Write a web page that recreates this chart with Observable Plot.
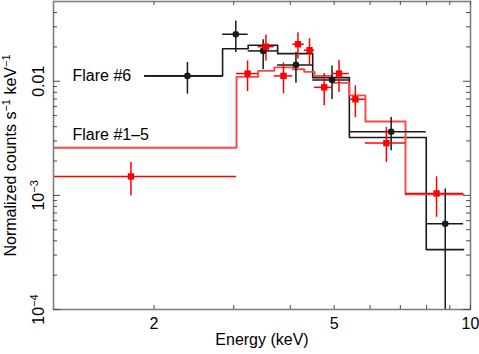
<!DOCTYPE html>
<html>
<head>
<meta charset="utf-8">
<script src="https://cdn.jsdelivr.net/npm/d3@7"></script>
<script src="https://cdn.jsdelivr.net/npm/@observablehq/plot@0.6"></script>
<style>
  html, body { margin: 0; padding: 0; background: #fff; }
</style>
</head>
<body>
<div id="chart"></div>
<script>
// ---- Flare #6 (black) ----
const f6Lo    = [1.908, 2.835, 3.229, 3.751, 4.483, 5.401, 7.985];
const f6Hi    = [2.835, 3.229, 3.751, 4.483, 5.401, 7.985, 9.654];
const f6E     = [2.371, 3.032, 3.485, 4.117, 4.946, 6.68, 8.795];
const f6Val   = [0.01114, 0.02582, 0.01845, 0.01391, 0.01028, 0.003606, 0.000565];
const f6ErrLo = [0.00771, 0.01783, 0.01259, 0.00962, 0.00692, 0.00246, 0.00005];
const f6ErrHi = [0.01459, 0.0338, 0.0231, 0.01783, 0.01364, 0.00481, 0.001138];
const f6Model = [0.01114, 0.0193, 0.0207, 0.01745, 0.01076, 0.003217, 0.000335];

// ---- Flare #1-5 (red) ----
const f15Lo    = [1.2, 3.043, 3.398, 3.687, 4.05, 4.295, 4.524, 4.946, 5.401, 5.861, 7.186];
const f15Hi    = [3.043, 3.398, 3.687, 4.05, 4.295, 4.524, 4.946, 5.401, 5.861, 7.186, 9.654];
const f15E     = [1.779, 3.219, 3.534, 3.864, 4.159, 4.411, 4.753, 5.125, 5.569, 6.52, 8.414];
const f15Val   = [0.001466, 0.01168, 0.0201, 0.01114, 0.02111, 0.01871, 0.00884, 0.01168, 0.00695, 0.002872, 0.00104];
const f15ErrLo = [0.000994, 0.00813, 0.01508, 0.00776, 0.0157, 0.01364, 0.00609, 0.00797, 0.00481, 0.001945, 0.000642];
const f15ErrHi = [0.001945, 0.01508, 0.02547, 0.01449, 0.02667, 0.0236, 0.01168, 0.01517, 0.00912, 0.00395, 0.001457];
const f15Model = [0.002615, 0.01093, 0.01233, 0.01323, 0.01276, 0.01208, 0.01114, 0.00968, 0.00752, 0.00444, 0.00102];

// ---- axes ----
const xDomain = [1.2, 10];
const yDomain = [1e-4, 0.05];
const xTicks = [2, 3, 4, 5, 6, 7, 8, 9, 10];
const xLabelTicks = [2, 5, 10];
const xLabelText = ["2", "5", "10"];
const yMajor = [1e-4, 1e-3, 1e-2];
const yMinor = [2e-4, 3e-4, 4e-4, 5e-4, 6e-4, 7e-4, 8e-4, 9e-4,
                2e-3, 3e-3, 4e-3, 5e-3, 6e-3, 7e-3, 8e-3, 9e-3,
                2e-2, 3e-2, 4e-2];
const yLabelText = ["10^{−4}", "10^{−3}", "0.01"];
const xTitle = "Energy (keV)";
const yTitle = "Normalized counts s^{−1} keV^{−1}";
const seriesNames = ["Flare #6", "Flare #1–5"];

// ---- build tables ----
const table = (lo, hi, e, v, el, eh) => lo.map((_, i) => ({lo: lo[i], hi: hi[i], e: e[i], v: v[i], el: el[i], eh: eh[i]}));
const f6 = table(f6Lo, f6Hi, f6E, f6Val, f6ErrLo, f6ErrHi);
const f15 = table(f15Lo, f15Hi, f15E, f15Val, f15ErrLo, f15ErrHi);
const step = (lo, hi, m) => lo.flatMap((l, i) => [{x: l, y: m[i]}, {x: hi[i], y: m[i]}]);
const f6Step = step(f6Lo, f6Hi, f6Model);
const f15Step = step(f15Lo, f15Hi, f15Model);

const W = 479, H = 354;
const mL = 53, mR = 9, mT = 1, mB = 45;
const pw = W - mL - mR, ph = H - mT - mB;

const BLACK = "#1a1a1a", RED = "#ff0000", REDM = "#ff4545", AX = "#808080", TK = "#4a4a4a";
const FONT = "'Liberation Sans', Arial, Helvetica, sans-serif";

const plot = Plot.plot({
  width: W, height: H,
  marginLeft: mL, marginRight: mR, marginTop: mT, marginBottom: mB,
  style: {fontFamily: FONT, fontSize: "16px", background: "white", overflow: "visible"},
  x: {type: "log", domain: xDomain, axis: null},
  y: {type: "log", domain: yDomain, axis: null},
  marks: [
    // models
    Plot.line(f6Step, {x: "x", y: "y", stroke: BLACK, strokeWidth: 1.6, clip: true}),
    Plot.line(f15Step, {x: "x", y: "y", stroke: REDM, strokeWidth: 1.9, clip: true}),
    // error bars
    Plot.ruleY(f6, {y: "v", x1: "lo", x2: "hi", stroke: BLACK, strokeWidth: 1.5, clip: true}),
    Plot.ruleX(f6, {x: "e", y1: "el", y2: "eh", stroke: BLACK, strokeWidth: 1.5, clip: true}),
    Plot.ruleY(f15, {y: "v", x1: "lo", x2: "hi", stroke: RED, strokeWidth: 1.5, clip: true}),
    Plot.ruleX(f15, {x: "e", y1: "el", y2: "eh", stroke: RED, strokeWidth: 1.5, clip: true}),
    // markers
    Plot.dot(f6, {x: "e", y: "v", r: 3.3, fill: BLACK, stroke: "none"}),
    Plot.dot(f15, {x: "e", y: "v", r: 3.6, symbol: "square", fill: RED, stroke: "none"}),
    // frame
    Plot.frame({stroke: AX, strokeWidth: 1.6}),
    // ticks (inward)
    Plot.tickX(xTicks, {x: d => d, insetTop: ph - 4, stroke: TK, strokeWidth: 1}),
    Plot.tickX(xTicks, {x: d => d, insetBottom: ph - 4, stroke: TK, strokeWidth: 1}),
    Plot.tickY(yMajor, {y: d => d, insetRight: pw - 7, stroke: TK, strokeWidth: 1}),
    Plot.tickY(yMinor, {y: d => d, insetRight: pw - 4, stroke: TK, strokeWidth: 1}),
    Plot.tickY(yMajor, {y: d => d, insetLeft: pw - 7, stroke: TK, strokeWidth: 1}),
    Plot.tickY(yMinor, {y: d => d, insetLeft: pw - 4, stroke: TK, strokeWidth: 1}),
    // tick labels
    Plot.text(xLabelTicks, {x: d => d, text: (d, i) => xLabelText[i], frameAnchor: "bottom", dy: 8, lineAnchor: "top", fontSize: 16, fill: "black"}),
    Plot.text(yMajor, {y: d => d, text: (d, i) => yLabelText[i], frameAnchor: "left", dx: -9.5, rotate: -90, textAnchor: "middle", lineAnchor: "bottom", fontSize: 16, fill: "black"}),
    // titles
    Plot.text([xTitle], {frameAnchor: "bottom", dy: 24, lineAnchor: "top", fontSize: 16, fill: "black"}),
    Plot.text([yTitle], {frameAnchor: "left", dx: -38, rotate: -90, textAnchor: "middle", lineAnchor: "bottom", fontSize: 16, fill: "black"}),
    // series labels
    Plot.text([seriesNames[0]], {frameAnchor: "left", y: [f6Model[0]], dx: 19, textAnchor: "start", lineAnchor: "middle", fontSize: 16, fill: "black"}),
    Plot.text([seriesNames[1]], {frameAnchor: "left", y: [f15Model[0]], dx: 19, dy: -12.6, textAnchor: "start", lineAnchor: "middle", fontSize: 16, fill: "black"})
  ]
});

// superscripts as tspans
const NS = "http://www.w3.org/2000/svg";
plot.querySelectorAll("text").forEach(t => {
  const s = t.textContent;
  if (!s.includes("^{")) return;
  t.textContent = "";
  const parts = s.split(/(\^\{[^}]*\})/);
  let raised = false;
  for (const p of parts) {
    if (!p) continue;
    const ts = document.createElementNS(NS, "tspan");
    if (p.startsWith("^{")) {
      ts.textContent = p.slice(2, -1);
      ts.setAttribute("font-size", "11");
      ts.setAttribute("dy", "-6");
      raised = true;
    } else {
      ts.textContent = p;
      if (raised) { ts.setAttribute("dy", "6"); raised = false; }
    }
    t.appendChild(ts);
  }
});

document.getElementById("chart").appendChild(plot);
</script>
</body>
</html>
